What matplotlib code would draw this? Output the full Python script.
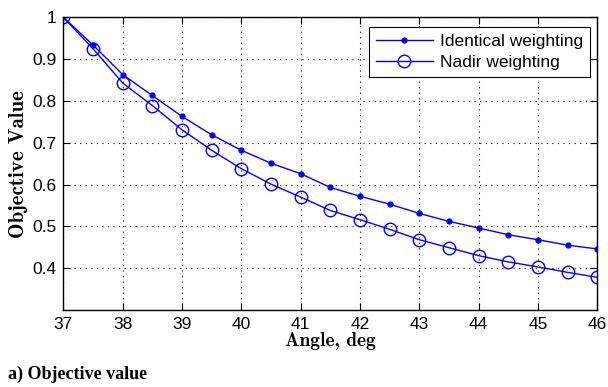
import matplotlib
matplotlib.use("Agg")
import matplotlib.pyplot as plt
import numpy as np

# angle grid in degrees and objective values for the two weighting schemes
angle = [37, 37.5, 38, 38.5, 39, 39.5, 40, 40.5, 41, 41.5, 42, 42.5,
         43, 43.5, 44, 44.5, 45, 45.5, 46]
identical = [1.0, 0.934, 0.863, 0.813, 0.763, 0.719, 0.682, 0.651, 0.626,
             0.593, 0.572, 0.553, 0.531, 0.512, 0.496, 0.480, 0.468, 0.455, 0.446]
nadir = [1.0, 0.925, 0.843, 0.789, 0.731, 0.682, 0.638, 0.601, 0.570,
         0.538, 0.516, 0.493, 0.468, 0.449, 0.430, 0.415, 0.403, 0.390, 0.378]

xticks = list(range(37, 47))
yticks = [0.4, 0.5, 0.6, 0.7, 0.8, 0.9, 1.0]
ytick_labels = ['0.4', '0.5', '0.6', '0.7', '0.8', '0.9', '1']

fig = plt.figure(figsize=(6.08, 3.87), dpi=100)
ax = fig.add_axes([0.1041, 0.199, 0.8783, 0.7563])

ax.plot(angle, identical, '-', color='blue', lw=1.0, marker='.', markersize=7,
        label='Identical weighting')
ax.plot(angle, nadir, '-', color='blue', lw=1.0, marker='o', markersize=9,
        markerfacecolor='none', markeredgecolor='blue', markeredgewidth=1.0,
        label='Nadir weighting')

ax.set_xlim(37, 46)
ax.set_ylim(0.3, 1.0)
ax.set_xticks(xticks)
ax.set_xticklabels([str(t) for t in xticks])
ax.set_yticks(yticks)
ax.set_yticklabels(ytick_labels)

ax.grid(True, linestyle=(0, (1, 4)), color='black', lw=0.8)
ax.tick_params(direction='in', top=True, right=True, length=5, width=0.8,
               labelsize=12.5, pad=5)
for lbl in ax.get_xticklabels() + ax.get_yticklabels():
    lbl.set_family('Liberation Sans')
for sp in ax.spines.values():
    sp.set_linewidth(1.0)

ax.set_xlabel('Angle, deg', family='cmb10', fontsize=14, labelpad=0)
ax.set_ylabel('Objective Value', family='cmb10', fontsize=15, labelpad=3)

leg = ax.legend(loc='upper right', bbox_to_anchor=(0.9863, 0.9658),
                prop={'family': 'Liberation Sans', 'size': 12.5},
                frameon=True, fancybox=False, edgecolor='black', framealpha=1,
                handlelength=3.3, borderaxespad=0, labelspacing=0.3,
                borderpad=0.4, handletextpad=0.4)
leg.get_frame().set_linewidth(0.8)

fig.text(0.013, 0.02, 'a) Objective value', family='Liberation Serif',
         fontweight='bold', fontsize=13)

fig.savefig('out.png', dpi=100)
